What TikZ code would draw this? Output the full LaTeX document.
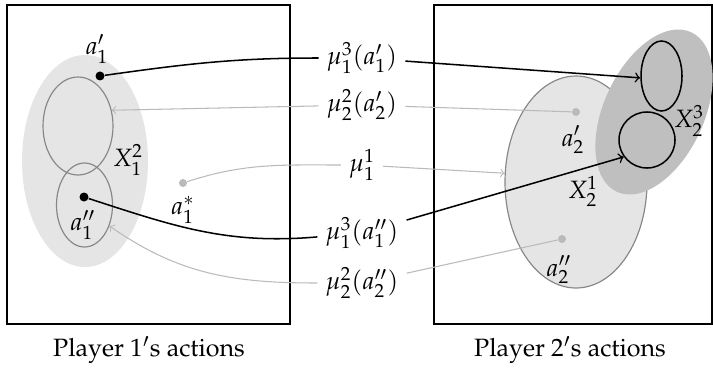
\documentclass[tikz,border=0pt]{standalone}
\usepackage{amsmath}
\usepackage[T1]{fontenc}
\usepackage{mathpazo}
\usepackage{tikz}
\usetikzlibrary{shapes, arrows.meta, positioning}
\newcommand{\pxu}{0.015cm}
\tikzstyle{every node}=[font=\fontsize{10.7}{13}\selectfont]
\tikzstyle{frame}=[draw,line width=0.65pt]
\tikzstyle{blob}=[ellipse,inner sep=0pt]
\tikzstyle{dot}=[circle,fill=black,inner sep=0pt,minimum size=9*\pxu]
\tikzstyle{gdot}=[circle,fill=black!27,inner sep=0pt,minimum size=8*\pxu]
\tikzstyle{bline}=[black,line width=0.65pt]
\tikzstyle{gline}=[black!27,line width=0.45pt]

\begin{document}
\begin{tikzpicture}[x=0.015cm,y=-0.015cm,>=to]
    \useasboundingbox (0,0) rectangle (713,367);
    \draw[frame] (7,5) rectangle (290,324);
    \draw[frame] (434,5) rectangle (712,324);
    \node (p1) at (149,350) {Player $1'$s actions};
    \node (p2) at (570,350) {Player $2'$s actions};

    % player 1
    \node[blob,fill=black!10,minimum width=126*\pxu,minimum height=212*\pxu] (X12) at (85,161) {};
    \node[blob,draw=black!47,line width=0.5pt,minimum width=70*\pxu,minimum height=98*\pxu] (L1top) at (78,126) {};
    \node[blob,draw=black!47,line width=0.5pt,minimum width=56*\pxu,minimum height=84*\pxu] (L1bot) at (84.5,205) {};
    \node (lX12) at (128,160) {$X_1^2$};
    \node[dot] (a1p) at (100,76) {};
    \node[dot] (a1pp) at (84,197) {};
    \node[gdot] (a1s) at (183,183) {};
    \node (la1p) at (97,49) {$a_1'$};
    \node (la1pp) at (83,225) {$a_1''$};
    \node (la1s) at (183,210) {$a_1^*$};

    % player 2
    \node[blob,fill=black!10,draw=black!47,line width=0.5pt,minimum width=142*\pxu,minimum height=212*\pxu] (X21) at (576,182) {};
    \node[blob,fill=black!25,rotate=65,minimum width=176*\pxu,minimum height=100*\pxu] (X23) at (654,112) {};
    \node[blob,draw,line width=0.65pt,minimum width=41*\pxu,minimum height=70*\pxu] (R3top) at (661.5,76) {};
    \node[blob,draw,line width=0.65pt,minimum width=56*\pxu,minimum height=56*\pxu] (R3bot) at (647,140) {};
    \node (lX23) at (689,121) {$X_2^3$};
    \node (lX21) at (583,191) {$X_2^1$};
    \node[gdot] (a2p) at (576,112) {};
    \node[gdot] (a2pp) at (562,239) {};
    \node (la2p) at (573,140) {$a_2'$};
    \node (la2pp) at (559,270) {$a_2''$};

    % beliefs
    \node (mu3p) at (362,58) {$\mu_1^3(a_1')$};
    \node (mu2p) at (362,105) {$\mu_2^2(a_2')$};
    \node (mu1) at (362,165) {$\mu_1^1$};
    \node (mu3pp) at (362,233) {$\mu_1^3(a_1'')$};
    \node (mu2pp) at (362,283) {$\mu_2^2(a_2'')$};

    \draw[bline,->] (a1p) to[out=8,in=180] (mu3p) -- (R3top.185);
    \draw[gline,->] (a2p) -- (mu2p) -- (L1top.25);
    \draw[gline,->] (a1s) to[out=18,in=180] (mu1) -- (X21.173);
    \draw[bline,->] (a1pp) to[out=-18,in=185] (mu3pp) -- (R3bot.216);
    \draw[gline,->] (a2pp) -- (mu2pp) to[out=180,in=-35] (L1bot.-40);
\end{tikzpicture}
\end{document}
